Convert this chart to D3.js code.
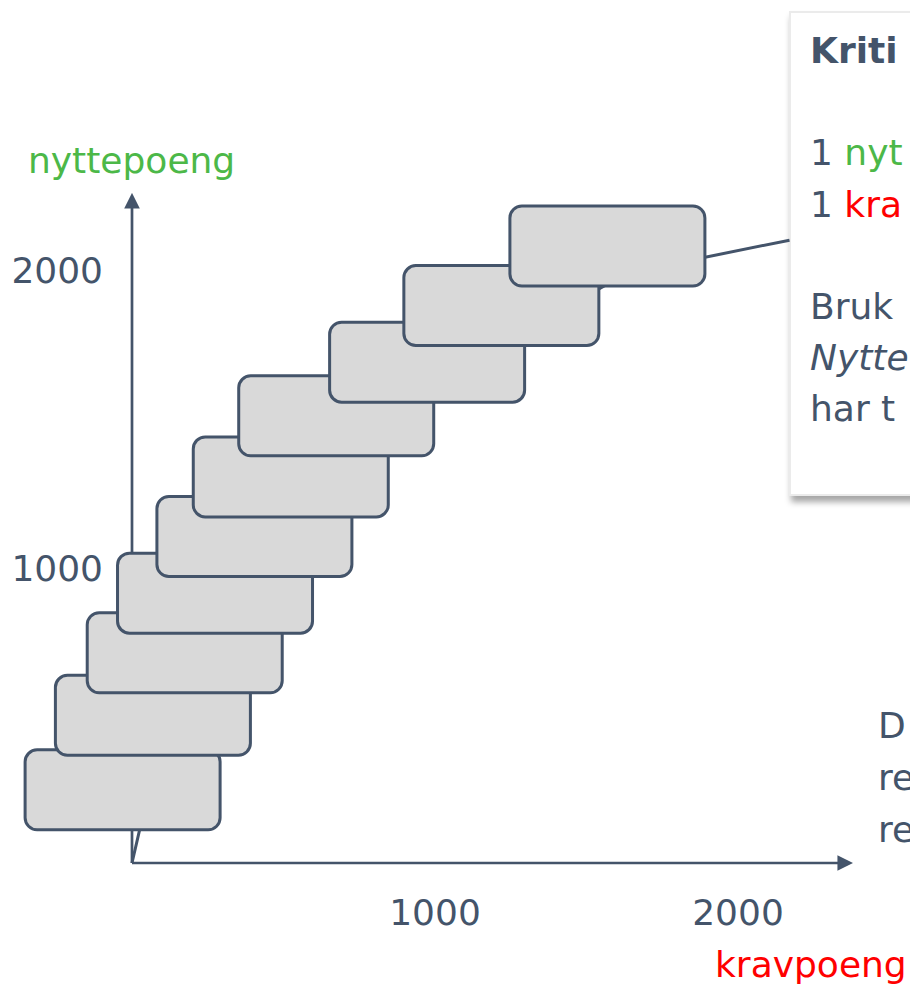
<!DOCTYPE html>
<meta charset="utf-8">
<style>
body{
  margin: 0;
  background: #fff;
  overflow: hidden;
}
text{
  font-family: "DejaVu Sans", Verdana, sans-serif;
  font-size: 36px;
}
.box{
  fill: #d9d9d9;
  stroke: #44546a;
  stroke-width: 3;
}
</style>
<svg id="chart" width="910" height="988"></svg>
<script src="https://d3js.org/d3.v7.min.js"></script>
<script>

// cumulative points (kravpoeng, nyttepoeng), one per box
var kravpoeng  = [35, 135, 240, 340, 470, 590, 740, 1040, 1285, 1635];
var nyttepoeng = [155, 405, 615, 815, 1005, 1205, 1410, 1590, 1780, 1980];
var calloutAnchor = [2170, 2090];
var xTicks = [1000, 2000];
var yTicks = [1000, 2000];
// only what shows inside the frame
var calloutLines = [
  {text: "Kriti", bold: true},
  {text: ""},
  {text: "1 ", rest: "nyt", restColor: "#4cb848"},
  {text: "1 ", rest: "kra", restColor: "#ff0000"},
  {text: ""},
  {text: "Bruk"},
  {text: "Nytte", italic: true},
  {text: "har t"}
];
var sideLines = ["D", "re", "re"];

var svg = d3.select("#chart"),
    width = +svg.attr("width"),
    height = +svg.attr("height");

var dark = "#44546a";

var x = d3.scaleLinear().domain([0, 2000]).range([132, 738]);
var y = d3.scaleLinear().domain([0, 2000]).range([863, 267]);

var defs = svg.append("defs");
var shadow = defs.append("filter")
  .attr("id", "shadow")
  .attr("x", "-10%").attr("y", "-10%")
  .attr("width", "130%").attr("height", "130%");
shadow.append("feDropShadow")
  .attr("dx", 2).attr("dy", 6)
  .attr("stdDeviation", 3)
  .attr("flood-color", "#000")
  .attr("flood-opacity", 0.35);

defs.append("marker")
  .attr("id", "arrow")
  .attr("viewBox", "0 0 10 10")
  .attr("refX", 1).attr("refY", 5)
  .attr("markerWidth", 5.8).attr("markerHeight", 6)
  .attr("markerUnits", "strokeWidth")
  .attr("orient", "auto")
  .append("path")
    .attr("d", "M0,0 L10,5 L0,10 Z")
    .attr("fill", dark);

// callout box on the right (cut off by the frame)
svg.append("rect")
  .attr("x", 790)
  .attr("y", 12)
  .attr("width", 200)
  .attr("height", 483)
  .attr("fill", "#fff")
  .attr("stroke", "#ebebeb")
  .attr("stroke-width", 2)
  .attr("filter", "url(#shadow)");

var ct = svg.append("g");
calloutLines.forEach(function(l, i){
  if (!l.text) return;
  var t = ct.append("text")
    .attr("x", 810)
    .attr("y", 63 + i*51.2)
    .attr("fill", dark)
    .style("font-weight", l.bold ? "bold" : "normal")
    .style("font-style", l.italic ? "italic" : "normal")
    .text(l.text);
  if (l.rest) {
    t.append("tspan").attr("fill", l.restColor).text(l.rest);
  }
});

svg.append("g").selectAll("text")
  .data(sideLines)
  .enter().append("text")
    .attr("x", 878)
    .attr("y", function(d, i){ return 738 + i*52; })
    .attr("fill", dark)
    .text(function(d){ return d; });

// axes
var ox = x(0), oy = y(0);
svg.append("line")
  .attr("x1", ox).attr("y1", oy)
  .attr("x2", ox).attr("y2", 207)
  .attr("stroke", dark)
  .attr("stroke-width", 2.7)
  .attr("marker-end", "url(#arrow)");
svg.append("line")
  .attr("x1", ox).attr("y1", oy)
  .attr("x2", 839).attr("y2", oy)
  .attr("stroke", dark)
  .attr("stroke-width", 2.7)
  .attr("marker-end", "url(#arrow)");

svg.append("g").selectAll("text")
  .data(xTicks)
  .enter().append("text")
    .attr("x", function(d){ return x(d); })
    .attr("y", 925)
    .attr("text-anchor", "middle")
    .attr("fill", dark)
    .text(function(d){ return d; });

svg.append("g").selectAll("text")
  .data(yTicks)
  .enter().append("text")
    .attr("x", 103)
    .attr("y", function(d){ return y(d) + 16; })
    .attr("text-anchor", "end")
    .attr("fill", dark)
    .text(function(d){ return d; });

svg.append("text")
  .attr("x", 28)
  .attr("y", 173)
  .attr("fill", "#4cb848")
  .text("nyttepoeng");
svg.append("text")
  .attr("x", 715)
  .attr("y", 977)
  .attr("fill", "#ff0000")
  .text("kravpoeng");

// cumulative line from origin, through the boxes, to the callout
var pts = [[0, 0]].concat(kravpoeng.map(function(k, i){ return [k, nyttepoeng[i]]; }));
pts.push(calloutAnchor);
svg.append("path")
  .datum(pts)
  .attr("fill", "none")
  .attr("stroke", dark)
  .attr("stroke-width", 3)
  .attr("d", d3.line()
    .x(function(d){ return x(d[0]); })
    .y(function(d){ return y(d[1]); }));

// boxes
var boxW = 195, boxH = 80;
svg.append("g").selectAll("rect")
  .data(kravpoeng.map(function(k, i){ return {k: k, n: nyttepoeng[i]}; }))
  .enter().append("rect")
    .attr("class", "box")
    .attr("x", function(d){ return x(d.k) - 20 - boxW/2; })
    .attr("y", function(d){ return y(d.n) - 27 - boxH/2; })
    .attr("width", boxW)
    .attr("height", boxH)
    .attr("rx", 12)
    .attr("ry", 12);

</script>
